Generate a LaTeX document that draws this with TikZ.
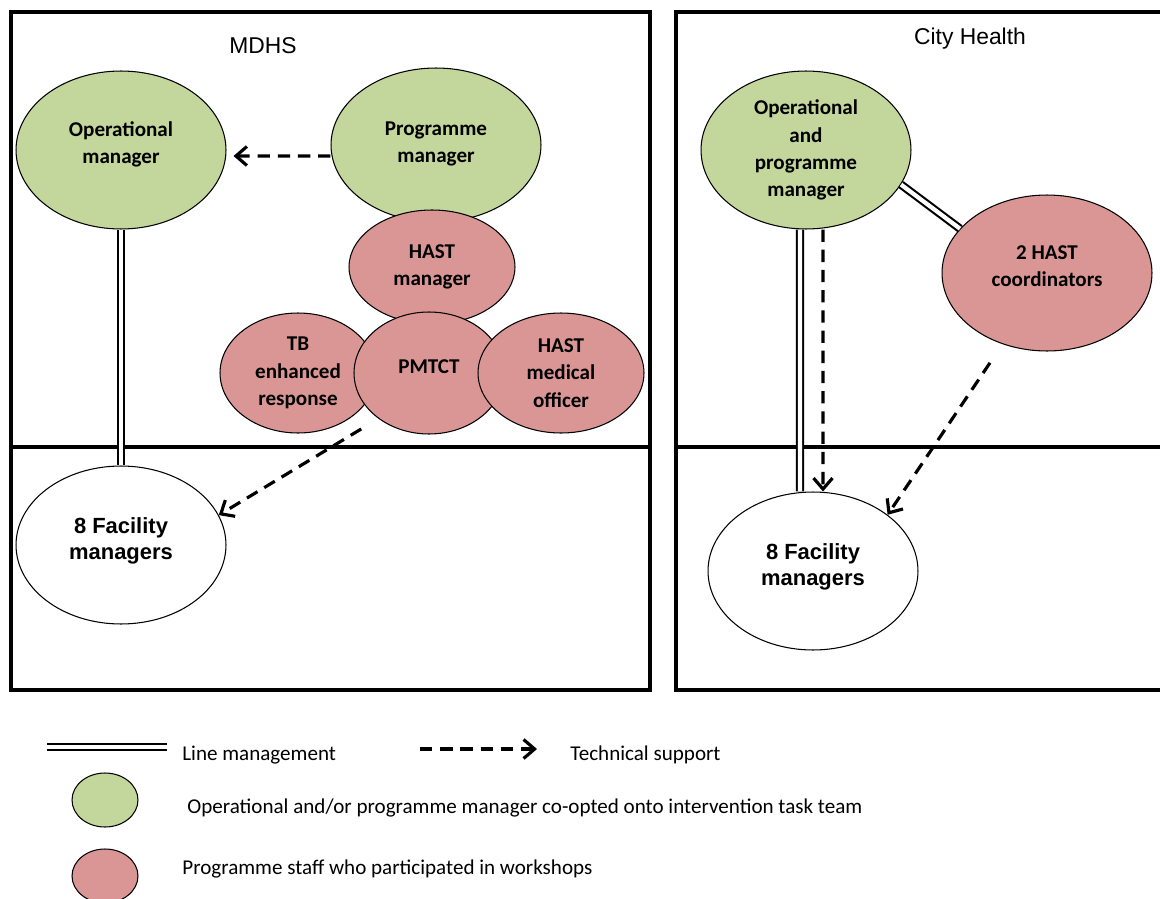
\documentclass[tikz,border=0pt]{standalone}
\usepackage{xcolor}
\usepackage{fontspec}
\usepackage{tikz}
\usetikzlibrary{shapes, arrows.meta, positioning}
\setmainfont{Carlito}
\newfontfamily\arialfont{Liberation Sans}

\definecolor{mgrgreen}{RGB}{195,214,155}
\definecolor{staffpink}{RGB}{217,150,148}

\tikzset{
  blob/.style={ellipse, draw, line width=0.6pt, inner sep=0pt, align=center},
  mgr/.style={blob, fill=mgrgreen, font=\fontsize{12}{15.5}\selectfont\bfseries},
  staff/.style={blob, fill=staffpink, font=\fontsize{12}{15.5}\selectfont\bfseries},
  facility/.style={blob, fill=white, font=\arialfont\fontsize{12.5}{15}\selectfont\bfseries},
  linemgmt/.style={double, double distance=2.4pt, line width=1.2pt},
  techsup/.style={line width=1.8pt, dash pattern=on 7pt off 4.5pt, -{Straight Barb[length=2.2mm, width=3.8mm]}},
  legendtext/.style={anchor=west, inner sep=0pt, font=\fontsize{12}{14}\selectfont}
}

\begin{document}
\begin{tikzpicture}[x=0.02cm, y=-0.02cm]
            \clip (0,0) rectangle (1160,899);

            % boxes
            \draw[line width=1.8pt] (11,12) rectangle (650,690);
            \draw[line width=1.8pt] (11,447) -- (650,447);
            \draw[line width=1.8pt] (676,12) rectangle (1175,690);
            \draw[line width=1.8pt] (676,447) -- (1175,447);

            \node[font=\arialfont\fontsize{13}{15}\selectfont] (mdhs) at (263,46) {MDHS};
            \node[font=\arialfont\fontsize{13}{15}\selectfont] (city) at (970,39) {City Health};

            % MDHS
            \node[mgr, minimum width=4.2cm, minimum height=3.16cm] (om) at (121,150) {Operational\\manager\\[-0.26cm]};
            \node[mgr, minimum width=4.2cm, minimum height=3.08cm] (pm) at (436,145) {Programme\\manager\\[-0.42cm]};
            \node[staff, minimum width=3.32cm, minimum height=2.28cm] (hm) at (432,267) {HAST\\manager};
            \node[staff, minimum width=3.12cm, minimum height=2.4cm] (tb) at (298,373) {TB\\enhanced\\response};
            \node[staff, minimum width=3cm, minimum height=2.44cm] (pmtct) at (429,373) {PMTCT\\[-0.3cm]};
            \node[staff, minimum width=3.32cm, minimum height=2.4cm] (hmo) at (561,373) {HAST\\medical\\officer};
            \node[facility, minimum width=4.2cm, minimum height=3.16cm] (fm1) at (121,545) {8 Facility\\managers\\[-0.28cm]};

            \draw[techsup] ([yshift=-0.22cm]pm.west) -- ([xshift=0.14cm,yshift=-0.12cm]om.east);
            \draw[linemgmt] (om.south) -- (fm1.north);
            \draw[techsup, shorten <=0.4cm] (pmtct.222) -- (fm1.17);

            % City Health
            \node[mgr, minimum width=4.2cm, minimum height=3.16cm] (opm) at (806,150) {Operational\\and\\programme\\manager};
            \node[staff, minimum width=4.2cm, minimum height=3.12cm] (hc) at (1047,273) {2 HAST\\coordinators\\[-0.26cm]};
            \node[facility, minimum width=4.2cm, minimum height=3.16cm] (fm2) at (813,571) {8 Facility\\managers\\[-0.28cm]};

            \draw[linemgmt] ([xshift=-0.12cm]opm.south) -- ([xshift=-0.26cm]fm2.north);
            \draw[techsup] ([xshift=0.34cm]opm.south) -- ([xshift=0.2cm]fm2.north);
            \draw[linemgmt] (opm.340) -- (hc.153);
            \draw[techsup, shorten <=0.45cm] (hc.238) -- (fm2.37);

            % legend
            \coordinate (lm1) at (47,747);
            \coordinate (lm2) at (167,747);
            \draw[linemgmt] (lm1) -- (lm2);
            \node[legendtext] (lmtext) at (182,755) {Line management};
            \coordinate (ts1) at (420,749);
            \coordinate (ts2) at (537,749);
            \draw[techsup] (ts1) -- (ts2);
            \node[legendtext] (tstext) at (570,755) {Technical support};
            \node[blob, fill=mgrgreen, minimum width=1.32cm, minimum height=1.08cm] (lgreen) at (105,800) {};
            \node[legendtext] (greentext) at (187,808) {Operational and/or programme manager co-opted onto intervention task team};
            \node[blob, fill=staffpink, minimum width=1.32cm, minimum height=1.08cm] (lpink) at (105,876) {};
            \node[legendtext] (pinktext) at (182,869) {Programme staff who participated in workshops};
        \end{tikzpicture}
\end{document}
